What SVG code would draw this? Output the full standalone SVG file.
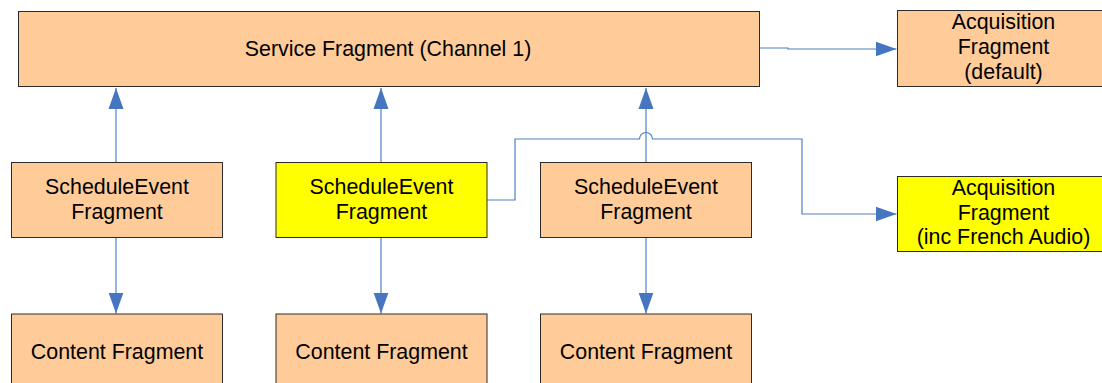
<svg xmlns="http://www.w3.org/2000/svg" width="1102" height="383" viewBox="0 0 1102 383">
<style>
.box{stroke:#2b2b2b;stroke-width:1}
.peach{fill:#FFCC99}
.yellow{fill:#FFFF00}
.t{font-family:"Liberation Sans",Arial,sans-serif;font-size:21.4px;fill:#000;text-anchor:middle}
.c{fill:none;stroke:#4f80c4;stroke-width:1.2}
</style>
<defs>
<marker id="ah" markerUnits="userSpaceOnUse" markerWidth="22" markerHeight="16" refX="21" refY="8" orient="auto">
<path d="M0,0.5 L21,8 L0,15.5 z" fill="#4675C2"/>
</marker>
</defs>
<rect width="1102" height="383" fill="#fff"/>
<g id="connectors">
<path class="c" d="M116,162 V88" marker-end="url(#ah)"/>
<path class="c" d="M381,162 V88" marker-end="url(#ah)"/>
<path class="c" d="M646,162 V88" marker-end="url(#ah)"/>
<path class="c" d="M116,238 V313.5" marker-end="url(#ah)"/>
<path class="c" d="M381,238 V313.5" marker-end="url(#ah)"/>
<path class="c" d="M646,238 V313.5" marker-end="url(#ah)"/>
<path class="c" d="M759.5,48 H788 V49 H896.5" marker-end="url(#ah)"/>
<path class="c" d="M487,200 H515 V139 H639.5 A6.5,6.5 0 0 1 652.5,139 H802 V214 H896.5" marker-end="url(#ah)"/>
</g>
<g id="service">
<rect class="box peach" x="18.5" y="11.5" width="741" height="75"/>
<text class="t" x="388" y="56">Service Fragment (Channel 1)</text>
</g>
<g id="acq-default">
<rect class="box peach" x="897.5" y="10.5" width="212" height="76"/>
<text class="t" x="1003.5" y="29">Acquisition</text>
<text class="t" x="1003.5" y="54">Fragment</text>
<text class="t" x="1003.5" y="79">(default)</text>
</g>
<g id="acq-french">
<rect class="box yellow" x="897.5" y="176.5" width="212" height="75"/>
<text class="t" x="1003.5" y="195">Acquisition</text>
<text class="t" x="1003.5" y="220">Fragment</text>
<text class="t" x="1003.5" y="244">(inc French Audio)</text>
</g>
<g id="se1">
<rect class="box peach" x="11.5" y="162.5" width="211" height="75"/>
<text class="t" x="117" y="194">ScheduleEvent</text>
<text class="t" x="117" y="219">Fragment</text>
</g>
<g id="se2">
<rect class="box yellow" x="276" y="162.5" width="211" height="75"/>
<text class="t" x="381.5" y="194">ScheduleEvent</text>
<text class="t" x="381.5" y="219">Fragment</text>
</g>
<g id="se3">
<rect class="box peach" x="540.5" y="162.5" width="211" height="75"/>
<text class="t" x="646" y="194">ScheduleEvent</text>
<text class="t" x="646" y="219">Fragment</text>
</g>
<g id="content1">
<rect class="box peach" x="11.5" y="314" width="211" height="76"/>
<text class="t" x="117" y="359">Content Fragment</text>
</g>
<g id="content2">
<rect class="box peach" x="276" y="314" width="211" height="76"/>
<text class="t" x="381.5" y="359">Content Fragment</text>
</g>
<g id="content3">
<rect class="box peach" x="540.5" y="314" width="211" height="76"/>
<text class="t" x="646" y="359">Content Fragment</text>
</g>
</svg>
